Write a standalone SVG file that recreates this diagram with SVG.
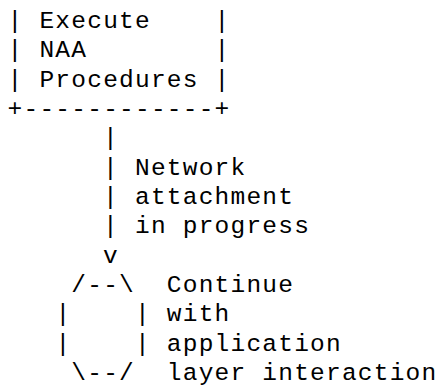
<svg xmlns="http://www.w3.org/2000/svg" width="443" height="389" viewBox="0 0 443 389">
<style>
text{font-family:"Liberation Mono","Courier New",monospace;font-size:24.5px;letter-spacing:1.22px;fill:#000;white-space:pre}
</style>
<rect width="443" height="389" fill="#fff"/>
<g transform="translate(0.6,0)">
<g id="naa-procedures">
<text x="7" y="28" xml:space="preserve">| Execute    |</text>
<text x="7" y="57.3" xml:space="preserve">| NAA        |</text>
<text x="7" y="86.7" xml:space="preserve">| Procedures |</text>
<text x="7" y="116" xml:space="preserve">+------------+</text>
</g>
<g id="connectors">
<text x="102.5" y="145.3">|</text>
<text x="102.5" y="174.7">|</text>
<text x="102.5" y="204">|</text>
<text x="102.5" y="233.3">|</text>
<text x="102.5" y="262.7">v</text>
<text x="134.4" y="174.7">Network</text>
<text x="134.4" y="204">attachment</text>
<text x="134.4" y="233.3">in progress</text>
</g>
<g id="continue-application">
<text x="70.7" y="292" xml:space="preserve">/--\</text>
<text x="54.8" y="321.3" xml:space="preserve">|    |</text>
<text x="54.8" y="350.7" xml:space="preserve">|    |</text>
<text x="70.7" y="380" xml:space="preserve">\--/</text>
<text x="166.2" y="292">Continue</text>
<text x="166.2" y="321.3">with</text>
<text x="166.2" y="350.7">application</text>
<text x="166.2" y="380">layer interaction</text>
</g>
</g>
</svg>
